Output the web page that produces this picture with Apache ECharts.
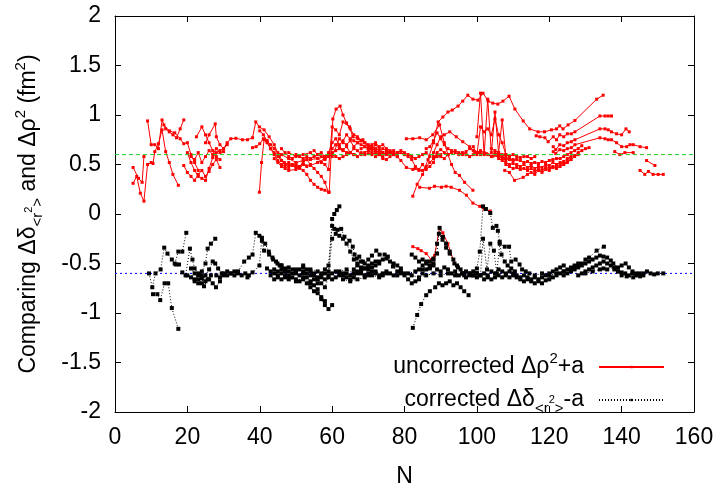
<!DOCTYPE html>
<html><head><meta charset="utf-8">
<script src="https://cdn.jsdelivr.net/npm/echarts@6/dist/echarts.min.js"></script>
<style>html,body{margin:0;padding:0;background:#fff}#c{width:725px;height:493px}</style>
</head><body><div id="c"></div>
<script>
// axis ranges / ticks
const xTicks = [0,20,40,60,80,100,120,140,160];
const yTicks = [-2,-1.5,-1,-0.5,0,0.5,1,1.5,2];
const offsetA = 0.6;   // the constant "a" (reference levels +a / -a)

// uncorrected Δρ²+a : one array of [N, value] per isotopic chain
const uncorrected = [
 [[5,0.31],[6,0.38],[7,0.21],[8,0.13],[9,0.50],[10,0.52]],
 [[5,0.47],[6.5,0.36],[7.5,0.32],[8,0.58]],
 [[9,0.94],[10,0.70],[11,0.70],[12,0.66],[13,0.95],[14,0.86],[15,0.83],[16,0.80],[17,0.77],[18,0.86],[19,0.95]],
 [[10.5,0.51],[11,0.63],[12,0.71],[13,0.85],[14,0.63],[15,0.52],[16,0.40],[17.5,0.29]],
 [[13.5,0.90],[15,0.84],[16.5,0.82],[18,0.76],[19,0.71],[20,0.72],[21,0.60],[22,0.52],[23,0.44]],
 [[19,0.49],[20,0.42],[21,0.38],[22,0.34],[23,0.40],[24,0.44],[25,0.38],[26,0.43],[27,0.50],[28,0.55],[29,0.47]],
 [[20,0.62],[21,0.52],[22,0.44],[23,0.38],[24,0.36],[25,0.34],[26,0.46],[27,0.57],[28,0.62],[29,0.64],[30,0.66],[31,0.70]],
 [[21,0.58],[22,0.55],[23,0.62],[24,0.52],[25,0.58],[26,0.64],[27,0.60],[28,0.66],[29,0.62],[30,0.63]],
 [[22.5,0.78],[24,0.88],[25,0.80],[26,0.72],[27,0.64],[28,0.58],[29,0.55]],
 [[25,0.72],[26,0.80],[27.7,0.91],[28,0.78],[29,0.70],[30,0.66],[31,0.72],[32,0.76],[33.4,0.765],[35.2,0.75],[36.6,0.75],[38,0.77],[38.9,0.93],[39.9,0.88],[41.2,0.85],[42.6,0.78],[44,0.70],[45.4,0.58],[46.8,0.52],[48,0.50],[50,0.48],[52,0.50],[54,0.49],[56,0.52],[58,0.56]],
 [[38,0.67],[39,0.68],[40,0.71],[41,0.76],[42,0.74],[43,0.70],[44,0.66],[45,0.62],[46,0.60],[48,0.56],[50,0.52],[52,0.54],[54,0.55],[56,0.56],[58,0.58],[59,0.60]],
 [[39.9,0.22],[40.5,0.52],[41.2,0.75],[42,0.72],[43,0.66],[44,0.62],[45,0.58],[46,0.54],[47,0.50],[48,0.47],[49,0.50],[50,0.48],[51,0.46],[52,0.50],[53,0.48]],
 [[40,0.84],[41,0.80],[42,0.74],[43,0.66],[44,0.60],[45,0.54],[46,0.50],[47,0.48],[48,0.52],[49,0.49],[50,0.51],[51,0.48],[52,0.52],[53,0.55],[54,0.50],[55,0.46],[56,0.42],[57,0.38],[58,0.32],[59,0.22]],
 [[44,0.56],[45,0.52],[46,0.48],[47,0.46],[48,0.44],[50,0.45],[51,0.47],[52,0.44],[53,0.40],[54,0.34],[55,0.30],[56,0.27],[57,0.25],[58,0.24],[59.2,0.22],[60.2,0.96],[61.1,1.06],[62.2,1.09],[63,1.00],[64,0.92],[65,0.86],[66,0.80],[67,0.78],[68,0.74],[69,0.72],[70,0.68],[71,0.66],[72,0.64]],
 [[46,0.66],[47,0.62],[48,0.58],[49,0.56],[50,0.60],[51,0.58],[52,0.56],[53,0.58],[54,0.56],[55,0.58],[56,0.60],[57,0.58],[58,0.55],[59,0.60],[60,0.62],[61,0.64],[62,0.66],[63,0.64],[64,0.62],[65,0.62],[66,0.60]],
 [[48,0.62],[50,0.58],[52,0.60],[54,0.62],[56,0.56],[58,0.50],[59,0.45],[60,0.88],[61,0.85],[62,0.80],[63,0.93],[64.8,0.88],[65.7,0.78],[67.1,0.76],[68.5,0.75],[70,0.70],[71,0.68],[72,0.66],[73,0.64],[74,0.62]],
 [[55,0.64],[56,0.60],[57,0.62],[58,0.58],[59,0.62],[60,0.72],[61,0.76],[62,0.70],[63,0.74],[64,0.80],[65,0.76],[66,0.74],[67,0.72],[68,0.70],[69,0.68],[70,0.66],[71,0.65],[72,0.70],[73,0.66]],
 [[57,0.52],[58,0.56],[59,0.58],[60,0.60],[61,0.58],[62,0.56],[63,0.58],[64,0.60],[65,0.62],[66,0.60],[67,0.58],[68,0.62],[69,0.60],[70,0.61],[71,0.60],[72,0.62],[73,0.60],[74,0.58],[75,0.62],[76,0.63],[77,0.60],[78,0.62]],
 [[60,0.66],[61,0.70],[62,0.68],[63,0.65],[64,0.68],[65,0.62],[66,0.66],[67,0.64],[68,0.60],[69,0.62],[70,0.64],[71,0.62],[72,0.64],[73,0.62],[74,0.66],[75,0.64],[76,0.60],[77,0.62],[78,0.58]],
 [[60,0.58],[62,0.76],[63,0.72],[64,0.70],[65,0.74],[66,0.68],[67,0.72],[68,0.74],[69,0.72],[70,0.68],[71,0.66],[72,0.64],[73,0.62],[74,0.56],[75,0.55],[76,0.58]],
 [[68,0.66],[69,0.68],[70,0.66],[71,0.70],[72,0.72],[73,0.68],[74,0.70],[75,0.66],[76,0.64],[77,0.60],[78,0.62],[79,0.64],[80,0.62],[81,0.60],[82,0.58],[83,0.56],[84,0.58],[85,0.60],[86,0.62],[87,0.58]],
 [[72,0.58],[73,0.60],[74,0.62],[75,0.60],[76,0.62],[77,0.64],[78,0.58],[79,0.54],[80.5,0.47],[82.3,0.45],[83,0.46],[84,0.44],[85,0.44],[86,0.48],[87,0.52],[88,0.56],[89,0.58],[90,0.60]],
 [[78,0.60],[79,0.62],[80,0.60],[81,0.58],[82,0.55],[83,0.48],[84,0.45],[85,0.50],[86,0.45],[87,0.48],[88,0.52],[89,0.62],[90,0.65],[91,0.62],[92,0.60]],
 [[80.5,0.76],[82.3,0.76],[84.2,0.77],[86,0.75],[87.8,0.80],[89.7,0.90],[91,0.72],[92,0.60],[93,0.50],[94,0.42],[95.2,0.39],[96.6,0.32],[98.9,0.24]],
 [[82.3,0.18],[83.5,0.30],[85,0.40],[86.5,0.55],[88,0.72],[89.3,0.93],[90.6,0.98],[92,1.03],[93.2,1.05],[94.8,1.09],[96.1,1.14],[97.5,1.20],[98.9,1.16],[100.3,1.15],[101.7,1.22],[103.1,1.14],[104.4,1.12],[105.8,1.11],[107.2,1.14],[108.9,1.19],[110.5,1.06],[112.8,0.94],[114.6,0.86],[116.9,0.83],[118.7,0.83],[120.6,0.85],[122,0.86],[122.9,0.89],[123.8,0.86],[125.2,0.90],[127.1,0.945],[133.1,1.16],[134.9,1.20]],
 [[84.2,0.27],[86.9,0.26],[88.3,0.28],[90.2,0.27],[91.5,0.28],[92.9,0.27],[95.2,0.24],[97.1,0.19],[98.9,0.11],[100.8,0.077],[102,0.05],[103.7,0.03]],
 [[88,0.62],[89,0.70],[90,0.78],[91,0.80],[92.5,0.83],[94.3,0.78],[96.1,0.73],[98,0.68],[99.4,0.63],[100.8,0.62],[102.6,0.61],[104.4,0.585],[106,0.58],[108,0.56],[110,0.55]],
 [[100,0.78],[101,1.22],[102,0.60],[103,1.16],[104,0.62],[105,1.03],[106,0.62],[107,0.95],[108,0.59]],
 [[99,0.68],[100,0.60],[101,0.88],[102,0.83],[103,0.86],[104,0.80],[105,0.96],[106,0.80],[107,0.72],[108,0.60],[109,0.58]],
 [[86,0.66],[87,0.68],[88,0.74],[89,0.82],[90,0.76],[91,0.70],[92,0.66],[93,0.64],[94,0.62],[95,0.60],[96,0.62],[97,0.60],[98,0.58],[99,0.60],[100,0.62],[101,0.60]],
 [[88,0.58],[89,0.60],[90,0.58],[91,0.56],[92,0.60],[93,0.62],[94,0.64],[95,0.62],[96,0.60],[97,0.63],[98,0.66],[99,0.64],[100,0.62],[101,0.64],[102,0.62],[103,0.60],[104,0.58],[105,0.60],[106,0.58],[107,0.56],[108,0.55]],
 [[105,0.62],[106,0.60],[107,0.58],[108,0.56],[109,0.55],[110,0.54],[111,0.55],[112,0.54],[113,0.52],[114,0.53],[115,0.51],[116,0.52],[117,0.51],[118,0.53],[119,0.52],[120,0.54],[121,0.55],[122,0.56],[123,0.56],[124,0.58],[125,0.60],[126,0.62],[127,0.64],[128,0.66],[129,0.69]],
 [[106,0.56],[107,0.54],[108,0.52],[109,0.50],[110,0.51],[111,0.50],[112,0.48],[113,0.50],[114,0.47],[115,0.49],[116,0.46],[117,0.48],[118,0.47],[119,0.50],[120,0.49],[121,0.52],[122,0.50],[123,0.52],[124,0.53],[125,0.56],[126,0.58],[127,0.59],[128,0.62],[129,0.64],[130,0.66],[131,0.67]],
 [[107.7,0.44],[109,0.42],[110.4,0.34],[112.8,0.37],[114,0.40],[115,0.42],[116,0.40],[117,0.44],[118,0.42],[119,0.45],[120,0.44],[121,0.47],[122,0.46],[123,0.48],[124,0.50],[125,0.52],[126,0.55],[127,0.58],[128,0.60]],
 [[108,0.50],[109,0.48],[110,0.46],[111,0.47],[112,0.45],[113,0.46],[114,0.44],[115,0.46],[116,0.43],[117,0.45],[118,0.44],[119,0.47],[120,0.46],[121,0.48],[122,0.47],[123,0.50],[124,0.51],[125,0.53],[126,0.55]],
 [[104,0.66],[105,0.64],[106,0.62],[107,0.60],[108,0.60],[109,0.58],[110,0.60],[111,0.58],[112,0.57],[113,0.58],[114,0.58],[115,0.56],[116,0.58]],
 [[116.4,0.79],[117.4,0.78],[118.8,0.77],[119.7,0.73],[121.1,0.78],[122,0.75],[122.9,0.80],[124,0.78],[125,0.81],[126.1,0.81],[127.1,0.83],[134,0.99],[135.4,0.99],[136.3,0.99],[137.2,0.99]],
 [[121.1,0.68],[121.8,0.65],[122.9,0.70],[124,0.69],[125,0.72],[126.1,0.73],[127.1,0.75],[134,0.86],[135.4,0.86],[136.3,0.85],[137.2,0.83],[138.6,0.81],[140,0.80],[141.2,0.86],[142.1,0.83]],
 [[121.1,0.63],[121.8,0.61],[122.9,0.65],[124,0.64],[125,0.66],[126.1,0.67],[127.1,0.70],[134,0.77],[135.4,0.76],[136.3,0.75],[137.2,0.75],[138.6,0.72],[140,0.68],[141.4,0.68],[142.3,0.70],[143.2,0.70],[145.1,0.68],[146.9,0.67]],
 [[138.1,0.63],[139.5,0.60],[140.9,0.62],[143.2,0.62]],
 [[146.9,0.54],[149.2,0.49]],
 [[145.1,0.44],[146.4,0.40],[147.4,0.43],[148.7,0.40],[150.1,0.40],[151.5,0.40]],
 [[82.3,-0.33],[83.7,-0.35],[84.6,-0.37],[86,-0.40],[87.4,-0.46],[88.3,-0.42],[89.7,-0.14],[90.6,-0.19],[92,-0.30],[93.8,-0.50]]
];

// corrected Δδ<r²>-a : one array of [N, value] per isotopic chain
const corrected = [
 [[9.4,-0.60],[10.3,-0.74],[11.2,-0.60],[12.6,-0.56],[13.6,-0.34],[14.5,-0.40],[15.7,-0.46],[16.8,-0.51],[17.7,-0.51]],
 [[10.5,-0.81],[11.7,-0.81],[12.5,-0.87],[13.7,-0.70],[14.7,-0.70],[15.7,-0.95],[17.5,-1.16]],
 [[16.5,-0.50],[17.5,-0.38],[18.6,-0.38],[19.7,-0.19]],
 [[18.6,-0.59],[19.5,-0.62],[20.7,-0.35],[21.4,-0.46],[22,-0.55],[23,-0.60],[24,-0.65],[24.6,-0.73],[25.6,-0.66],[26.5,-0.62]],
 [[20,-0.62],[21,-0.64],[22,-0.68],[23,-0.62],[24,-0.58],[25,-0.50],[25.6,-0.35],[26.5,-0.30],[27.7,-0.25]],
 [[21,-0.55],[22,-0.60],[23,-0.66],[24,-0.70],[25,-0.62],[26,-0.56],[27,-0.48],[27.7,-0.50],[28.5,-0.55],[29.5,-0.60]],
 [[22,-0.66],[23,-0.70],[24,-0.62],[25,-0.68],[26,-0.66],[27,-0.70],[27.9,-0.74],[29,-0.68],[30,-0.62],[31,-0.62],[32,-0.60],[33,-0.58],[34,-0.60],[35,-0.62],[36,-0.60],[37,-0.62]],
 [[28,-0.62],[29,-0.64],[30,-0.60],[31,-0.58],[32,-0.60],[33,-0.62],[34,-0.58],[35.7,-0.48],[37,-0.44],[38,-0.41],[38.9,-0.19],[39.9,-0.22],[40.6,-0.27],[41.2,-0.37],[42.6,-0.41],[43.7,-0.46],[44.9,-0.50],[46,-0.52]],
 [[36.6,-0.64],[38,-0.59],[39.9,-0.52],[40.6,-0.24],[41.5,-0.30],[42.5,-0.38],[43.5,-0.44],[44.5,-0.48],[45.5,-0.52],[46.5,-0.56]],
 [[42,-0.55],[43,-0.58],[44,-0.60],[45,-0.62],[46,-0.60],[47,-0.64],[48,-0.62],[49,-0.60],[50,-0.58],[51,-0.62],[52,-0.60],[53,-0.64],[54,-0.68],[55,-0.72],[56,-0.76],[57,-0.86],[58,-0.92],[59,-0.96],[60,-0.92]],
 [[43,-0.62],[44,-0.66],[45,-0.64],[46,-0.66],[47,-0.62],[48,-0.66],[49,-0.64],[50,-0.66],[51,-0.68],[52,-0.66],[53,-0.70],[54,-0.74],[55,-0.78],[56,-0.80],[57,-0.84],[58,-0.88]],
 [[44,-0.56],[45,-0.58],[46,-0.56],[47,-0.58],[48,-0.54],[49,-0.56],[50,-0.60],[51,-0.56],[52,-0.58],[53,-0.60],[54,-0.62],[55,-0.60],[56,-0.64],[57,-0.62],[58,-0.60],[59,-0.58],[60,-0.05],[60.6,0.0],[61.3,0.04],[62,0.077]],
 [[46,-0.52],[47,-0.55],[48,-0.58],[50,-0.56],[52,-0.54],[54,-0.56],[56,-0.58],[57,-0.60],[58,-0.56],[59,-0.52],[60,-0.12],[60.6,-0.15],[61.5,-0.16],[62.5,-0.15],[63.4,-0.23],[64.8,-0.27],[65.7,-0.33],[66.2,-0.41],[66.8,-0.45],[67.5,-0.43],[68.5,-0.48],[70,-0.52]],
 [[48,-0.64],[50,-0.68],[52,-0.64],[54,-0.70],[55,-0.66],[56,-0.70],[57,-0.64],[58,-0.66],[59,-0.62],[60,-0.25],[61,-0.20],[62,-0.22],[63,-0.25],[64,-0.30],[65,-0.38],[66,-0.46],[67,-0.52],[68,-0.54],[69,-0.55],[70,-0.54],[71,-0.50],[72,-0.48],[73,-0.50]],
 [[52,-0.52],[53,-0.56],[54,-0.58],[55,-0.62],[56,-0.66],[57,-0.70],[58,-0.74],[59,-0.64],[60,-0.60],[61,-0.58],[62,-0.60],[63,-0.62],[64,-0.60],[65,-0.62],[66,-0.60],[67,-0.58],[68,-0.60],[69,-0.62],[70,-0.60],[71,-0.58],[72,-0.60],[73,-0.62],[74,-0.60],[75,-0.58]],
 [[60,-0.66],[61,-0.64],[62,-0.62],[63,-0.60],[64,-0.64],[65,-0.66],[66,-0.64],[67,-0.60],[68,-0.56],[69,-0.55],[70,-0.56],[71,-0.54],[72,-0.52],[73,-0.48],[74,-0.46],[75,-0.45],[76,-0.48],[77,-0.50],[78,-0.52],[79,-0.55]],
 [[66,-0.56],[67,-0.50],[68,-0.48],[69,-0.50],[70,-0.46],[71,-0.42],[72.2,-0.37],[73.1,-0.41],[74.5,-0.41],[75.4,-0.43],[76.8,-0.53],[78,-0.58],[79,-0.60]],
 [[62,-0.58],[64,-0.56],[66,-0.60],[68,-0.58],[70,-0.62],[72,-0.58],[74,-0.62],[76,-0.60],[78,-0.62],[80,-0.60],[82,-0.62],[84,-0.64],[86,-0.62],[88,-0.60],[90,-0.62],[92,-0.60],[94,-0.62],[96,-0.60],[98,-0.62],[100,-0.60]],
 [[63,-0.66],[65,-0.68],[67,-0.66],[69,-0.64],[71,-0.62],[73,-0.64],[75,-0.60],[77,-0.62],[79,-0.58],[81,-0.60],[83,-0.58],[85,-0.56],[87,-0.54],[88,-0.50]],
 [[82.3,-1.15],[83.5,-1.02],[84.6,-0.91],[86,-0.82],[87,-0.78],[88.5,-0.74],[89.5,-0.70],[90.5,-0.72],[91.5,-0.70],[92.5,-0.68],[93.5,-0.72],[94.5,-0.70],[95.5,-0.74],[96.5,-0.78],[97.7,-0.82]],
 [[80,-0.62],[81,-0.66],[82,-0.70],[83,-0.68],[84,-0.66],[85,-0.60],[86,-0.56],[87,-0.52],[88,-0.46],[89,-0.30],[89.7,-0.14],[90.6,-0.23],[91.5,-0.30],[92.5,-0.38],[93.8,-0.50],[94.8,-0.54],[96,-0.60],[97,-0.64]],
 [[82,-0.41],[83,-0.44],[84,-0.48],[85,-0.46],[86,-0.50],[87,-0.48],[88,-0.45],[89,-0.40],[89.5,-0.20],[90.5,-0.26],[91.5,-0.34],[92.5,-0.40],[93.5,-0.46],[94.5,-0.52],[95.5,-0.56],[96.5,-0.62]],
 [[84,-0.56],[85,-0.52],[86,-0.48],[87,-0.55],[88,-0.52],[89,-0.56],[90,-0.58],[91,-0.54],[92,-0.56],[93,-0.60],[94,-0.58],[95,-0.62],[96,-0.60],[97,-0.58],[98,-0.60],[99,-0.62],[100,-0.60]],
 [[98,-0.60],[99,-0.58],[100,-0.55],[100.8,-0.38],[101.7,0.077],[102.5,0.05],[103.7,0.01],[104.4,-0.14],[105.4,-0.12],[105.8,-0.17],[106.3,-0.28],[106.8,-0.41],[107.7,-0.48],[108.5,-0.52],[109.5,-0.55],[110.5,-0.58]],
 [[99,-0.62],[100,-0.60],[101,-0.62],[101.7,-0.25],[102.8,-0.56],[103.7,-0.30],[104.7,-0.37],[105.5,-0.60],[106.3,-0.30],[107.7,-0.33],[108.9,-0.33],[109.5,-0.48],[110.7,-0.46],[111.8,-0.51],[112.5,-0.56],[113.5,-0.58],[114.5,-0.60]],
 [[100,-0.64],[101,-0.62],[102,-0.60],[103,-0.62],[104,-0.58],[105,-0.60],[106,-0.56],[107,-0.58],[108,-0.60],[109,-0.58],[110,-0.60],[111,-0.62],[112,-0.64],[113,-0.62],[114,-0.64],[115,-0.66],[116,-0.64],[117,-0.66],[118,-0.64],[119,-0.62],[120,-0.60],[121,-0.58],[122,-0.56],[123,-0.54],[124,-0.52]],
 [[102,-0.66],[103,-0.64],[104,-0.66],[105,-0.64],[106,-0.62],[107,-0.64],[108,-0.62],[109,-0.64],[110,-0.62],[111,-0.64],[112,-0.66],[113,-0.68],[114,-0.66],[115,-0.68],[116,-0.70],[117,-0.68],[118,-0.70],[119,-0.67],[120,-0.66],[121,-0.64],[122,-0.62],[123,-0.60],[124,-0.58],[125,-0.56],[126,-0.54],[127,-0.52],[128,-0.50]],
 [[116,-0.62],[118,-0.60],[120,-0.62],[122,-0.60],[124,-0.58],[126,-0.56],[127,-0.54],[128,-0.52],[129,-0.50],[130,-0.46],[131,-0.44],[133.1,-0.37],[135.1,-0.33]],
 [[124,-0.62],[125,-0.60],[126,-0.58],[127,-0.56],[128,-0.54],[129,-0.52],[130,-0.50],[131,-0.48],[132,-0.46],[133,-0.44],[134,-0.42],[135,-0.43],[136,-0.44],[137,-0.47],[137.7,-0.50],[139,-0.54],[140,-0.52],[141.1,-0.50],[142,-0.54],[143,-0.58],[144,-0.60]],
 [[128,-0.62],[129,-0.60],[130,-0.58],[131,-0.56],[132,-0.54],[133,-0.52],[134,-0.50],[135,-0.48],[136,-0.50],[137,-0.52],[138,-0.56],[139,-0.58],[140,-0.59],[141.4,-0.63],[143.2,-0.64],[145.1,-0.63],[146,-0.60],[147,-0.58],[148,-0.60],[149,-0.61],[150,-0.60],[151.5,-0.60]],
 [[130,-0.60],[132,-0.58],[134,-0.56],[135,-0.55],[136,-0.56],[138,-0.54],[139,-0.58],[140,-0.62],[141,-0.60],[142,-0.62],[143,-0.60],[144,-0.62],[145,-0.60],[146,-0.62]]
];

const FONT = '"Liberation Sans", Arial, Helvetica, sans-serif';
const FS = 23;
const chart = echarts.init(document.getElementById('c'), null, {renderer: 'canvas'});

const series = [];
uncorrected.forEach(ch => series.push({
  type: 'line', name: 'uncorrected', data: ch, xAxisIndex: 0, yAxisIndex: 0,
  symbol: 'rect', symbolSize: 3, showSymbol: true, animation: false, z: 2,
  itemStyle: {color: '#ff0000'}, lineStyle: {color: '#ff0000', width: 1}
}));
corrected.forEach(ch => series.push({
  type: 'line', name: 'corrected', data: ch, xAxisIndex: 0, yAxisIndex: 0,
  symbol: 'rect', symbolSize: 4, showSymbol: true, animation: false, z: 3,
  itemStyle: {color: '#000000'}, lineStyle: {color: '#000000', width: 1, type: [1, 2]}
}));
series.push({
  type: 'line', name: 'refUpper', data: [[xTicks[0], offsetA], [xTicks[xTicks.length-1], offsetA]],
  symbol: 'none', animation: false, silent: true, z: 4,
  lineStyle: {color: '#22cc22', width: 1, type: [4, 3]}
});
series.push({
  type: 'line', name: 'refLower', data: [[xTicks[0], -offsetA], [xTicks[xTicks.length-1], -offsetA]],
  symbol: 'none', animation: false, silent: true, z: 1,
  lineStyle: {color: '#0000ff', width: 1, type: [2, 3]}
});

const axisCommon = {
  axisLine: {show: true, onZero: false, lineStyle: {color: '#000', width: 1}},
  axisTick: {show: true, inside: true, length: 6, lineStyle: {color: '#000'}},
  splitLine: {show: false}
};

const richBase = {
  t: {fontSize: FS, fontFamily: FONT, color: '#000', lineHeight: 32},
  sup: {fontSize: 15, fontFamily: FONT, color: '#000', verticalAlign: 'top', lineHeight: 32},
  sub: {fontSize: 15, fontFamily: FONT, color: '#000', verticalAlign: 'bottom', lineHeight: 32},
  subsup: {fontSize: 11, fontFamily: FONT, color: '#000', verticalAlign: 'middle', lineHeight: 32}
};

chart.setOption({
  backgroundColor: '#fff',
  animation: false,
  grid: {left: 115, right: 31, top: 16, bottom: 70, containLabel: false},
  xAxis: [
    Object.assign({type: 'value', position: 'bottom', min: xTicks[0], max: xTicks[xTicks.length-1], interval: 20,
      name: 'N', nameLocation: 'middle', nameGap: 53,
      nameTextStyle: {fontSize: FS, fontFamily: FONT, color: '#000'},
      axisLabel: {fontSize: FS, fontFamily: FONT, color: '#000', margin: 14}}, axisCommon),
    Object.assign({type: 'value', position: 'top', min: xTicks[0], max: xTicks[xTicks.length-1], interval: 20,
      axisLabel: {show: false}}, axisCommon)
  ],
  yAxis: [
    Object.assign({type: 'value', position: 'left', min: yTicks[0], max: yTicks[yTicks.length-1], interval: 0.5,
      name: '{t|Comparing Δδ}{sub|<r}{subsup|2}{sub|>}{t| and Δρ}{sup|2}{t| (fm}{sup|2}{t|)}',
      nameLocation: 'middle', nameGap: 70, nameRotate: 90,
      nameTextStyle: {fontSize: FS, fontFamily: FONT, color: '#000', rich: richBase},
      axisLabel: {fontSize: FS, fontFamily: FONT, color: '#000', margin: 14}}, axisCommon),
    Object.assign({type: 'value', position: 'right', min: yTicks[0], max: yTicks[yTicks.length-1], interval: 0.5,
      axisLabel: {show: false}}, axisCommon)
  ],
  legend: {
    data: ['uncorrected', 'corrected'],
    orient: 'vertical', right: 55, top: 346, align: 'right',
    itemWidth: 65, itemHeight: 3, itemGap: 10,
    selectedMode: false,
    formatter: function (name) {
      return name === 'uncorrected'
        ? '{t|uncorrected Δρ}{sup|2}{t|+a}'
        : '{t|corrected Δδ}{sub|<r}{subsup|2}{sub|>}{t|-a}';
    },
    textStyle: {fontSize: FS, fontFamily: FONT, color: '#000', padding: [0, 10, 0, 0], rich: richBase}
  },
  series: series
});
</script>
</body></html>
